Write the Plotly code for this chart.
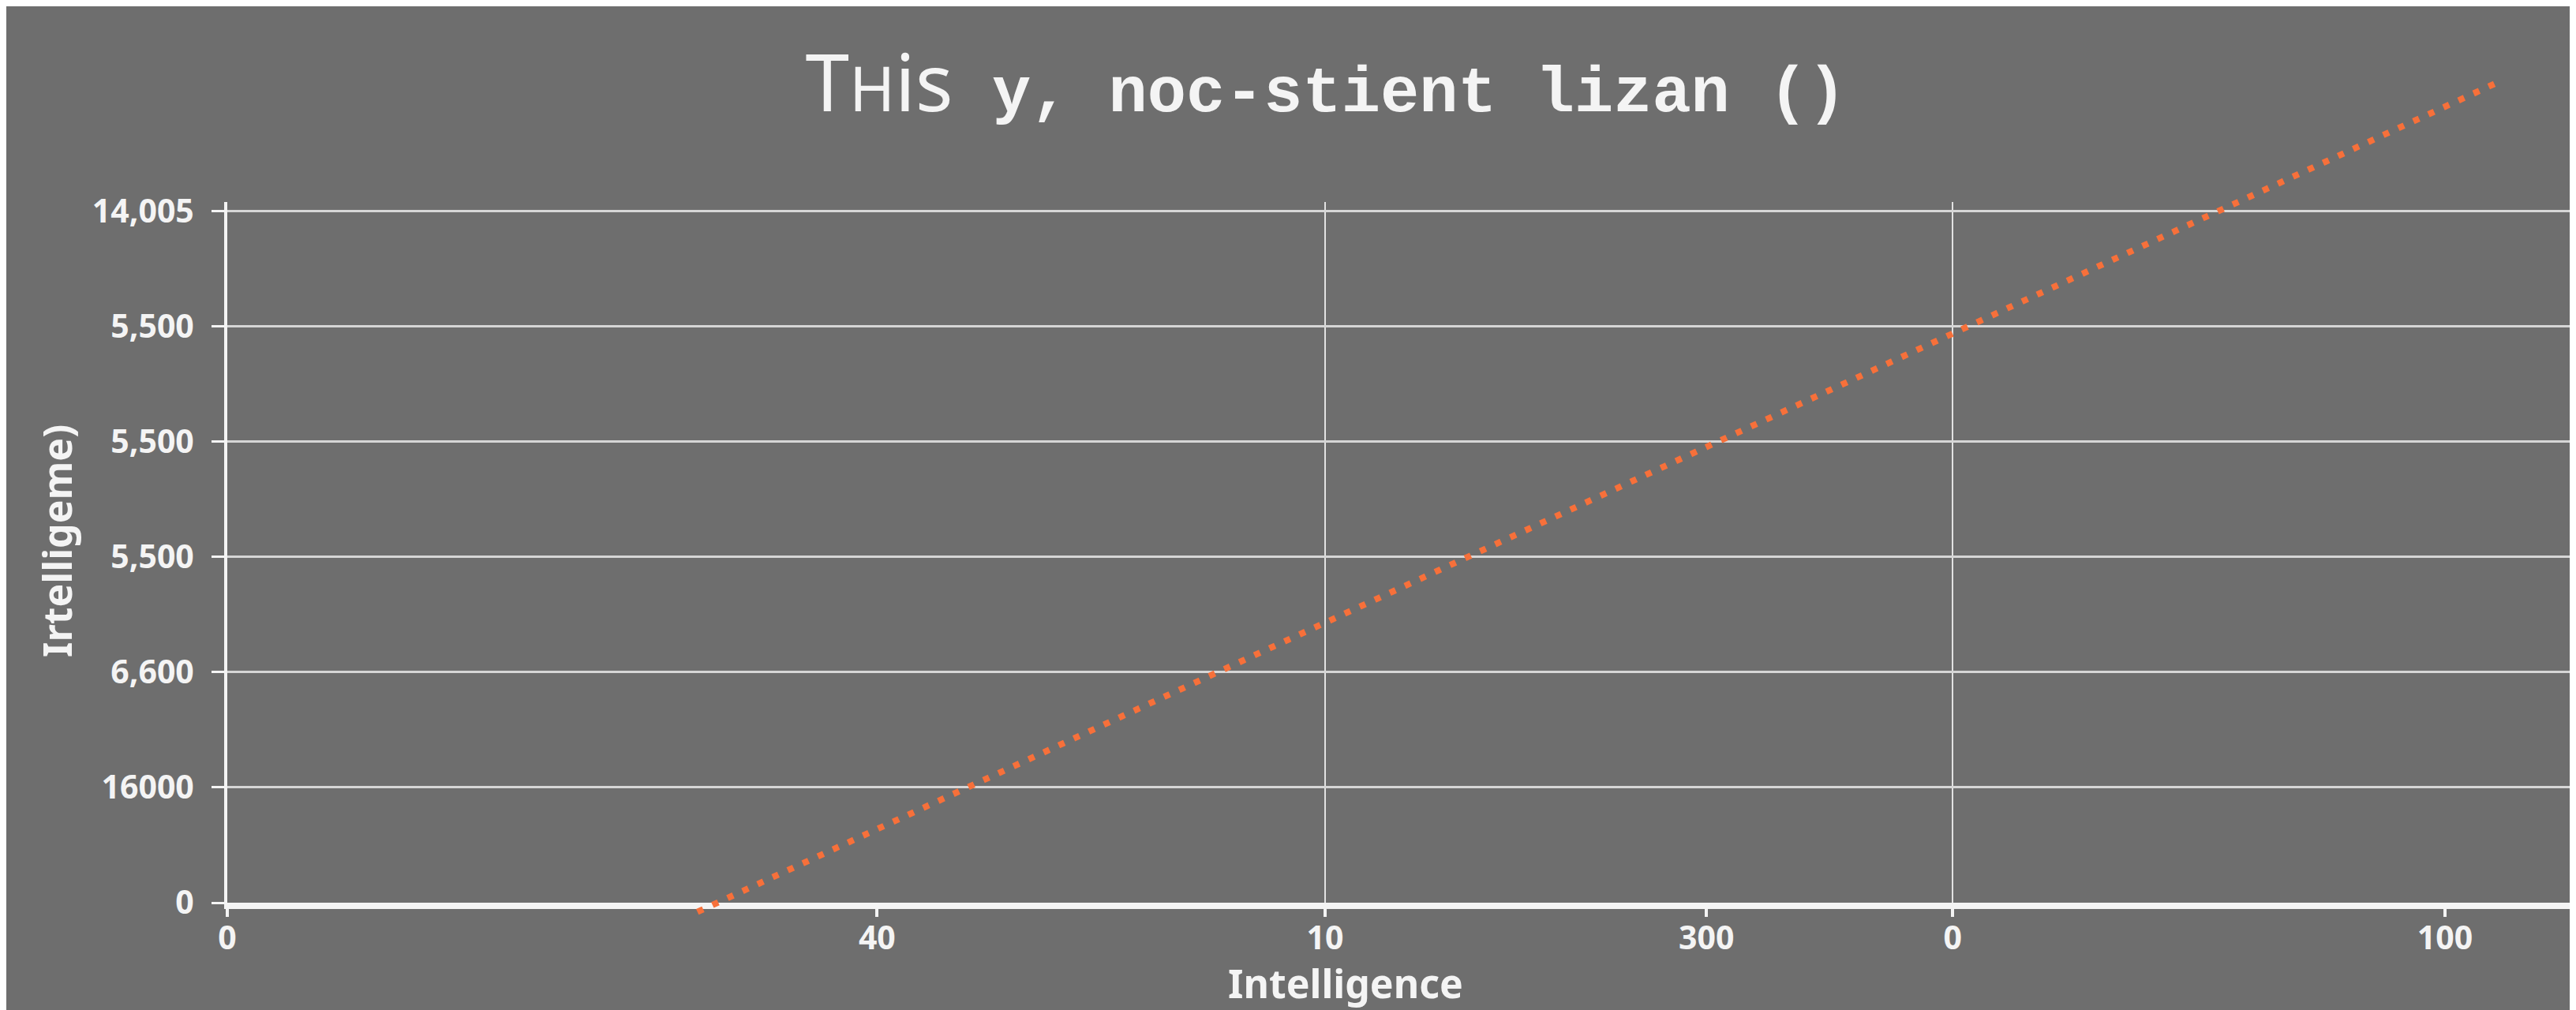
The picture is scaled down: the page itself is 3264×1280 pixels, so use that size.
import plotly.graph_objects as go

# tick labels as printed on the chart
x_tick_pos = [0, 29.3, 49.5, 66.7, 77.8, 100]
x_tick_text = ['0', '40', '10', '300', '0', '100']
y_tick_pos = [0, 1, 2, 3, 4, 5, 6]
y_tick_text = ['0', '16000', '6,600', '5,500', '5,500', '5,500', '14,005']

# the dotted trend line (two end points)
line_x = [21.2, 102.4]
line_y = [-0.08, 7.12]

bg = '#6e6e6e'
white = '#f4f4f4'
orange = '#f7703a'

W, H = 3264, 1280
m_l, m_r, m_t, m_b = 280, 16, 60, 120
plot_h = H - m_t - m_b
x_range = [0, (W - m_r - m_l) / 28.1]

# main y axis: from px 248 down to px 1136
y_dom = [(H - m_b - 1136) / plot_h, (H - m_b - 248) / plot_h]
y_range = [0, 6.08]
# second axes for the line, same scale but taller so the line can run past the top
per = (y_range[1] - y_range[0]) / (y_dom[1] - y_dom[0])
y2_range = [y_range[0] - y_dom[0] * per, y_range[0] + (1 - y_dom[0]) * per]

fig = go.Figure()
# empty trace so the main x/y subplot (grid, ticks) exists
fig.add_trace(go.Scatter(x=[], y=[], showlegend=False, hoverinfo='skip'))
fig.add_trace(go.Scatter(x=line_x, y=line_y, mode='lines', xaxis='x2', yaxis='y2',
                         line=dict(color=orange, width=8, dash='8px,13px'),
                         showlegend=False, hoverinfo='skip'))

tick_font = dict(family='Noto Sans', size=41, color=white, weight='bold')

fig.update_layout(
    width=W, height=H,
    paper_bgcolor=bg, plot_bgcolor='rgba(0,0,0,0)',
    margin=dict(l=m_l, r=m_r, t=m_t, b=m_b),
    title=dict(
        text="<span style='font-family:Noto Sans;font-weight:normal;font-size:100px'>T"
             "<span style='font-size:78px'>H</span>is</span> "
             "<span style='font-family:Liberation Mono;font-weight:bold'>y, noc-stient lizan ()</span>",
        font=dict(family='Liberation Mono', size=82, color=white),
        x=1672 / W, xref='container', xanchor='center',
        y=1 - 104 / H, yref='container', yanchor='middle'),
    xaxis=dict(range=x_range, tickmode='array', tickvals=x_tick_pos, ticktext=x_tick_text,
               showline=True, linewidth=8, linecolor=white,
               ticks='outside', ticklen=10, tickwidth=4, tickcolor=white,
               showgrid=False, zeroline=False, automargin=False,
               tickfont=tick_font, ticklabelstandoff=-8,
               minor=dict(tickmode='array', tickvals=[x_tick_pos[2], x_tick_pos[4]],
                          showgrid=True, gridcolor='#e2e2e2', gridwidth=2, ticks='')),
    yaxis=dict(domain=y_dom, range=y_range, tickmode='array', tickvals=y_tick_pos, ticktext=y_tick_text,
               showline=True, linewidth=4, linecolor=white,
               ticks='outside', ticklen=16, tickwidth=3, tickcolor=white,
               showgrid=True, gridcolor='#d6d6d6', gridwidth=3, zeroline=False, automargin=False,
               tickfont=tick_font, ticklabelstandoff=14),
    xaxis2=dict(range=x_range, anchor='y2', visible=False, showgrid=False),
    yaxis2=dict(domain=[0, 1], range=y2_range, anchor='x2', visible=False, showgrid=False),
    annotations=[
        dict(text='Intelligence', xref='paper', yref='paper', showarrow=False,
             x=(1697 - m_l) / (W - m_l - m_r), y=-(1238 - (H - m_b)) / plot_h,
             xanchor='center', yanchor='middle',
             font=dict(family='Noto Sans', size=50, color=white, weight='bold')),
        dict(text='Irtelligeme)', xref='paper', yref='paper', showarrow=False, textangle=-90,
             x=-(m_l - 64) / (W - m_l - m_r), y=(H - m_b - 677) / plot_h,
             xanchor='center', yanchor='middle',
             font=dict(family='Noto Sans', size=50, color=white, weight='bold')),
    ],
)

fig.write_html("out.html")
